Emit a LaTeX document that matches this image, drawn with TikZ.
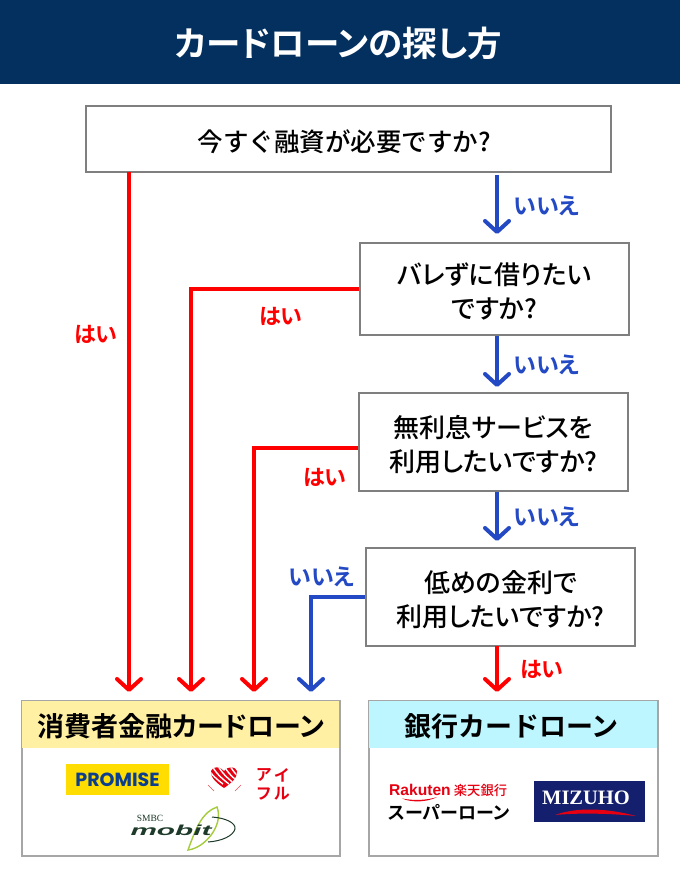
\documentclass[tikz,border=0pt]{standalone}
\usepackage{fontspec}
\setmainfont{Noto Sans CJK JP}[RawFeature={+palt},UprightFont={* Medium},BoldFont={* Bold}]
\newfontfamily\plainjp{Noto Sans CJK JP}[UprightFont={* Medium},BoldFont={* Bold}]
\newfontfamily\serifl{Liberation Serif}
\newfontfamily\sansl{Liberation Sans}
\newfontfamily\poppl{Poppins}
\usetikzlibrary{arrows.meta,calc}
\definecolor{navy}{HTML}{03305F}
\definecolor{yred}{HTML}{FF0000}
\definecolor{nblue}{HTML}{2349C4}
\definecolor{boxline}{HTML}{7F7F7F}
\definecolor{hdryellow}{HTML}{FFF0A3}
\definecolor{hdrcyan}{HTML}{BDF6FF}
\definecolor{promy}{HTML}{FFDD00}
\definecolor{promb}{HTML}{0B3E8F}
\definecolor{aired}{HTML}{E60012}
\definecolor{mobg}{HTML}{1E3A2A}
\definecolor{mobl}{HTML}{A5CC3A}
\definecolor{mizu}{HTML}{14206E}
\newcommand{\lowerby}{\rule{0pt}{27pt}}
\tikzset{
  x=1pt,y=-1pt,
  qbox/.style={draw=boxline,line width=1.6pt,fill=white,align=center,font=\fontsize{26}{34}\selectfont,text=black,inner sep=0pt},
  resbox/.style={draw=black!35,line width=1.3pt,fill=white,inner sep=0pt},
  hdr/.style={font=\bfseries\fontsize{27}{30}\selectfont,text=black,inner sep=0pt},
  yes/.style={draw=yred,line width=4pt,-{Straight Barb[length=11pt,width=24pt,line width=4pt,round]}},
  no/.style={draw=nblue,line width=4pt,-{Straight Barb[length=11pt,width=24pt,line width=4pt,round]}},
  yeslab/.style={text=yred,font=\bfseries\fontsize{22}{24}\selectfont,inner sep=0pt},
  nolab/.style={text=nblue,font=\bfseries\fontsize{23}{24}\selectfont,inner sep=0pt},
  plain/.style={inner sep=0pt},
  aichar/.style={plain,text=aired,font=\bfseries\fontsize{16}{16}\selectfont}
}
\begin{document}
\begin{tikzpicture}
\useasboundingbox (0,0) rectangle (680,880);
\fill[white] (0,0) rectangle (680,880);
\fill[navy] (0,0) rectangle (680,84);
\node[plain,text=white,font=\bfseries\fontsize{34.5}{40}\selectfont] (title) at (338.5,43) {カードローンの探し方};

\node[qbox,minimum width=525pt,minimum height=66pt] (q1) at (348.5,139) {\plainjp\fontsize{25.5}{34}\selectfont\lowerby 今すぐ融資が必要ですか?\hspace*{8pt}};
\node[qbox,minimum width=269pt,minimum height=92pt] (q2) at (494.5,289) {\lowerby バレずに借りたい\\ですか?};
\node[qbox,minimum width=269pt,minimum height=98pt] (q3) at (493.5,442) {\lowerby 無利息サービスを\\利用したいですか?};
\node[qbox,minimum width=269pt,minimum height=98pt] (q4) at (500.5,597) {\lowerby 低めの金利で\\利用したいですか?};

\node[resbox,minimum width=318pt,minimum height=155pt] (r1) at (181,778.5) {};
\fill[hdryellow] ([xshift=.7pt,yshift=-.7pt]r1.north west) rectangle (339.3,748);
\node[hdr] (h1) at (181,726) {消費者金融カードローン};
\node[resbox,minimum width=289pt,minimum height=155pt] (r2) at (513.5,778.5) {};
\fill[hdrcyan] ([xshift=.7pt,yshift=-.7pt]r2.north west) rectangle (657.3,748);
\node[hdr,font=\plainjp\bfseries\fontsize{27}{30}\selectfont] (h2) at (511.5,726) {銀行カードローン};

% targets
\coordinate (t1) at (129,692);
\coordinate (t2) at (191,692);
\coordinate (t3) at (254,692);
\coordinate (t4) at (311,692);
\coordinate (t5) at (497,692);
\coordinate (a1) at (497,175);
\coordinate (b1) at (497,234);
\coordinate (a2) at (497,336);
\coordinate (b2) at (497,387);
\coordinate (a3) at (497,492);
\coordinate (b3) at (497,541);
\coordinate (a5) at (497,646);
\coordinate (s1) at (129,172);

\draw[yes] (s1) -- (t1);
\draw[yes] (q2.west) -| (t2);
\draw[yes] (q3.west |- 0,448) -| (t3);
\draw[no] (q4.west) -| (t4);
\draw[no] (a1) -- (b1);
\draw[no] (a2) -- (b2);
\draw[no] (a3) -- (b3);
\draw[yes] (a5) -- (t5);

\node[yeslab] (l1) at (96,334) {はい};
\node[yeslab] (l2) at (281,316) {はい};
\node[yeslab] (l3) at (325,477) {はい};
\node[yeslab] (l4) at (542,669) {はい};
\node[nolab] (n1) at (547,206) {いいえ};
\node[nolab] (n2) at (547,365) {いいえ};
\node[nolab] (n3) at (547,517) {いいえ};
\node[nolab] (n4) at (322,577) {いいえ};

% PROMISE
\node[plain,fill=promy,minimum width=103pt,minimum height=31pt,text=promb,font=\poppl\bfseries\fontsize{19}{24}\selectfont] (prom) at (117.5,779.5) {PROMISE};

% Aiful mark
\begin{scope}
\clip (211,771) .. controls (213,766) and (220,766) .. (224,771) .. controls (228,766) and (235,766) .. (237,771) .. controls (238,778) and (230,784) .. (224,788) .. controls (218,784) and (210,778) .. (211,771) -- cycle;
\fill[aired] (205,760) rectangle (242,790);
\foreach \k in {0,1,2,3,4}{
  \draw[white,line width=1.4pt] (205+\k*6,764) .. controls (209+\k*6,772) and (215+\k*6,778) .. (223+\k*6,784);
}
\end{scope}
\draw[aired!70,line width=.6pt] (208,785) -- (214,791);
\draw[aired!70,line width=.6pt] (241,785) -- (235,791);
\node[aichar] (aia) at (264,775) {ア};
\node[aichar] (aii) at (281.5,775) {イ};
\node[aichar] (aiu) at (264,794) {フ};
\node[aichar] (ail) at (282,794) {ル};

% mobit
\draw[mobl,line width=1.4pt] (217,807) .. controls (203,812) and (197,825) .. (188,850) .. controls (205,848) and (224,825) .. (217,807) -- cycle;
\draw[mobg,line width=1pt] (212,817) .. controls (226,818) and (236,823) .. (235,829) .. controls (233,836) and (222,841) .. (208,842);
\node[plain,text=mobg,font=\serifl\fontsize{9.5}{10}\selectfont] (smbc) at (150,818) {SMBC};
\node[plain,text=mobg,font=\sansl\bfseries\itshape\fontsize{17}{18}\selectfont,xscale=1.75,yscale=.85] (mob) at (171,830) {mobit};

% Rakuten
\node[plain,text=aired,font=\sansl\bfseries\fontsize{15.6}{20}\selectfont] (rak) at (420,790) {Rakuten};
\fill[aired] (402,798.5) .. controls (415,801) and (428,800) .. (437,797) .. controls (428,802) and (412,803) .. (402,798.5) -- cycle;
\node[plain,text=aired,font=\fontsize{13.3}{14}\selectfont] (rakj) at (480.5,790.5) {楽天銀行};
\node[plain,text=black,font=\bfseries\fontsize{18}{20}\selectfont] (super) at (449,812) {スーパーローン};

% Mizuho
\node[plain,fill=mizu,minimum width=111pt,minimum height=41pt] (miz) at (589.5,801.5) {};
\node[plain,text=white,font=\serifl\bfseries\fontsize{20.5}{20}\selectfont] (mizt) at (586,798) {MIZUHO};
\fill[aired] (555,815) .. controls (575,807.5) and (605,807.5) .. (636,816) .. controls (605,813) and (575,813) .. (555,815) -- cycle;
\end{tikzpicture}
\end{document}
